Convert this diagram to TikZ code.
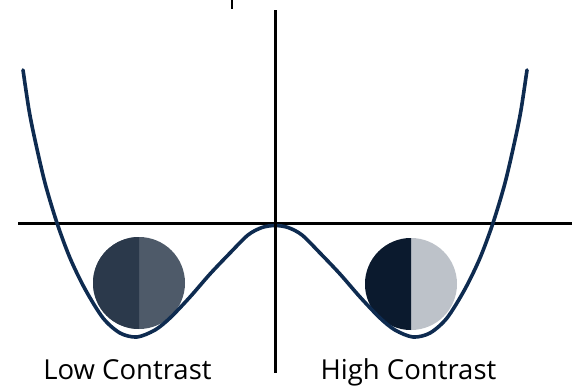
\documentclass[tikz,border=0pt]{standalone}
\usepackage{fontspec}
\setmainfont{Open Sans}
\usepackage{tikz}
\usetikzlibrary{positioning,calc}
\definecolor{wellblue}{HTML}{0E2B50}
\definecolor{lowdark}{HTML}{2B394B}
\definecolor{lowlight}{HTML}{4E5A69}
\definecolor{highdark}{HTML}{0B1A2E}
\definecolor{highlight}{HTML}{BDC2C9}

\begin{document}
\begin{tikzpicture}[x=1pt, y=-1pt,
    axis/.style={black, line width=3pt},
    well/.style={wellblue, line width=3.6pt, line cap=round},
    lbl/.style={anchor=base, inner sep=0pt, font=\fontsize{27.5}{32}\selectfont}]
    \useasboundingbox (0,0) rectangle (576,386);

    % --- Balls in the two wells ---
    \begin{scope}[xshift=139pt]
        \fill[lowlight] (0,283) circle[radius=46];
        \begin{scope}
            \clip (-50,230) rectangle (0,340);
            \fill[lowdark] (0,283) circle[radius=46];
        \end{scope}
    \end{scope}
    \begin{scope}[xshift=411pt]
        \fill[highlight] (0,284) circle[radius=46];
        \begin{scope}
            \clip (-50,230) rectangle (0,340);
            \fill[highdark] (0,284) circle[radius=46];
        \end{scope}
    \end{scope}

    % --- Axes and double well ---
    \draw[axis] (18,223) -- (572,223);
    \draw[well] plot[smooth] coordinates {
        (23,70) (29,110) (35,140) (45,183) (57,223) (70,258) (85,289)
        (103,318) (120,333) (137,337) (155,330) (170,318) (190,297)
        (210,274) (230,253) (248,235) (262,227.5) (275,225.5) (288,227.5)
        (302,235) (320,253) (340,274) (360,297) (380,318) (395,330)
        (413,337) (430,333) (447,318) (465,289) (480,258) (493,223)
        (505,183) (515,140) (521,110) (527,70)};
    \draw[axis] (275,10) -- (275,373);
    \draw[black, line width=2pt] (232,0) -- (232,9);

    % --- Labels ---
    \node[lbl] (lowlbl) at (127.5,379) {Low Contrast};
    \node[lbl] (highlbl) at (408.5,379) {High Contrast};
\end{tikzpicture}
\end{document}
